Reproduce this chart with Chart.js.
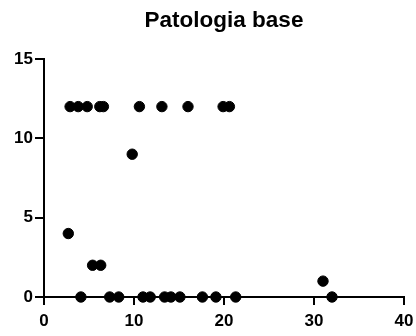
<!DOCTYPE html>
<html>
<head>
<meta charset="utf-8">
<script src="https://cdn.jsdelivr.net/npm/chart.js@4.4.1/dist/chart.umd.min.js"></script>
<style>
  html, body { margin: 0; padding: 0; background: #fff; }
  #wrap { width: 416px; height: 336px; }
</style>
</head>
<body>
<div id="wrap"><canvas id="c" width="416" height="336"></canvas></div>
<script>
// values
const xValues = [2.9, 3.8, 4.8, 6.2, 6.6, 10.6, 13.1, 16.0, 19.9, 20.6,
                 9.8, 2.7, 5.4, 6.3,
                 4.1, 7.3, 8.3, 11.0, 11.8, 13.4, 14.1, 15.1, 17.6, 19.1, 21.3,
                 31.0, 32.0];
const yValues = [12, 12, 12, 12, 12, 12, 12, 12, 12, 12,
                 9, 4, 2, 2,
                 0, 0, 0, 0, 0, 0, 0, 0, 0, 0, 0,
                 1, 0];
const xTicks = [0, 10, 20, 30, 40];
const yTicks = [0, 5, 10, 15];

const tickFont = { family: 'Liberation Sans, Arial, sans-serif', size: 17, weight: 'bold' };

new Chart(document.getElementById('c'), {
  type: 'scatter',
  data: {
    datasets: [{
      data: xValues.map((x, i) => ({ x, y: yValues[i] })),
      backgroundColor: '#000',
      borderColor: '#000',
      pointRadius: 5.2,
      pointHoverRadius: 5.2,
      clip: false
    }]
  },
  options: {
    responsive: false,
    animation: false,
    layout: { padding: { left: 0, right: 12, top: 0, bottom: 0 } },
    plugins: {
      legend: { display: false },
      tooltip: { enabled: false },
      title: {
        display: true,
        text: 'Patologia base',
        color: '#000',
        fullSize: false,
        font: { family: 'Liberation Sans, Arial, sans-serif', size: 22.5, weight: 'bold' },
        padding: { top: 7, bottom: 25 }
      }
    },
    scales: {
      x: {
        type: 'linear',
        min: 0, max: 40,
        afterBuildTicks: s => { s.ticks = xTicks.map(v => ({ value: v })); },
        afterFit: s => { s.height = 39; s.paddingLeft = 0; s.paddingRight = 0; },
        border: { display: true, color: '#000', width: 2 },
        grid: { drawOnChartArea: false, drawTicks: true, tickLength: 8, color: '#000', lineWidth: 2 },
        ticks: { color: '#000', font: tickFont, padding: 6, maxRotation: 0 }
      },
      y: {
        type: 'linear',
        min: 0, max: 15,
        afterBuildTicks: s => { s.ticks = yTicks.map(v => ({ value: v })); },
        afterFit: s => { s.width = 44; s.paddingTop = 0; s.paddingBottom = 0; },
        border: { display: true, color: '#000', width: 2 },
        grid: { drawOnChartArea: false, drawTicks: true, tickLength: 9, color: '#000', lineWidth: 2 },
        ticks: { color: '#000', font: tickFont, padding: 2 }
      }
    }
  }
});
</script>
</body>
</html>
